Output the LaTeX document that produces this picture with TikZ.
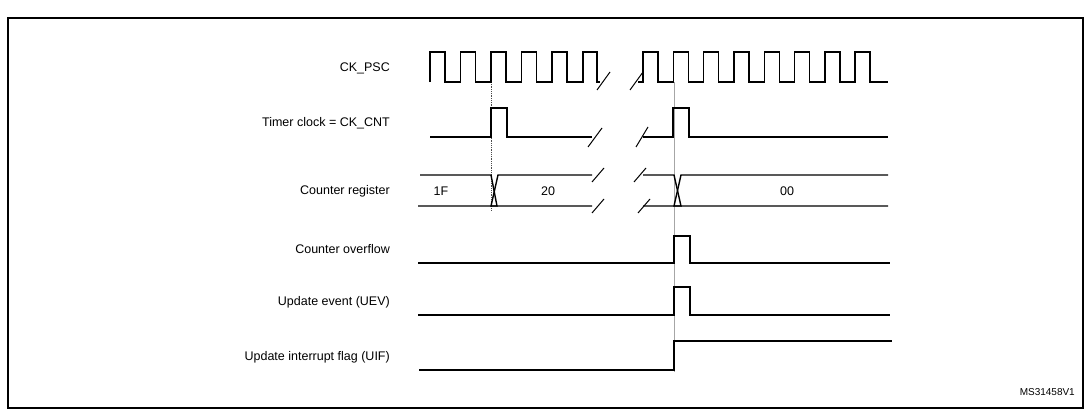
\documentclass[tikz,border=0pt]{standalone}
\usepackage{fontspec}
\setmainfont{Liberation Sans}
\tikzset{
  wave/.style={line width=1.4pt, line join=miter},
  brk/.style={line width=1pt},
  lbl/.style={anchor=east, font=\fontsize{12.5}{14}\selectfont, inner sep=0pt},
  marker/.style={draw=black!35, line width=0.8pt}
}
\begin{document}
\begin{tikzpicture}[x=1pt,y=-1pt]
\useasboundingbox (0,0) rectangle (1085,410);
\clip (0,0) rectangle (1085,410);

% title, mostly cut off by the page
\node (title) [anchor=base west, inner sep=0pt, font=\fontsize{26}{29}\selectfont\bfseries] at (140,-8) {Figure 131. Counter timing diagram, internal clock divided by 1};
\draw [line width=1.5pt] (8,18) rectangle (1083,408);

% signal names
\node (ckpsc) [lbl] at (390,68) {CK\_PSC};
\node (tclk)  [lbl] at (390,123) {Timer clock = CK\_CNT};
\node (creg)  [lbl] at (390,191) {Counter register};
\node (covf)  [lbl] at (390,249) {Counter overflow};
\node (uev)   [lbl] at (390,302) {Update event (UEV)};
\node (uif)   [lbl] at (390,357) {Update interrupt flag (UIF)};

% markers
\draw [marker, densely dotted, draw=black!70] (491,82) -- (491,210);
\draw [marker] (674,82) -- (674,372);

% CK_PSC
\draw [wave] (430,82)
  \foreach \x in {430,460.5,491,521.5,552} { -- (\x,82) -- (\x,52) -- (\x+15,52) -- (\x+15,82) }
  -- (583,82) -- (583,52) -- (597,52) -- (597,82) -- (600,82);
\draw [wave] (638,82)
  \foreach \x in {643,673.3,703.6,733.9,764.2,794.5,824.8,855.1} { -- (\x,82) -- (\x,52) -- (\x+15,52) -- (\x+15,82) }
  -- (888,82);
\draw [brk] (597,90) -- (610,72);
\draw [brk] (630,90) -- (643,72);

% Timer clock
\draw [wave] (430,137) -- (491,137) -- (491,108) -- (507,108) -- (507,137) -- (592,137);
\draw [wave] (643,137) -- (673,137) -- (673,108) -- (689,108) -- (689,137) -- (888,137);
\draw [brk] (588,147) -- (602,128);
\draw [brk] (636,147) -- (648,127);

% Counter register
\draw [wave] (420,175) -- (491,175) -- (497,206) -- (418,206);
\draw [wave] (592,175) -- (498,175) -- (491,206) -- (592,206);
\draw [wave] (643,175) -- (674,175) -- (681,206) -- (643,206);
\draw [wave] (888,175) -- (681,175) -- (674,206) -- (888,206);
\node (v1f) [font=\fontsize{12.5}{14}\selectfont] at (441,191) {1F};
\node (v20) [font=\fontsize{12.5}{14}\selectfont] at (548,191) {20};
\node (v00) [font=\fontsize{12.5}{14}\selectfont] at (787,191) {00};
\draw [brk] (592,182) -- (604,168);
\draw [brk] (592,213) -- (604,199);
\draw [brk] (634,182) -- (646,168);
\draw [brk] (638,213) -- (650,199);

% Counter overflow
\draw [wave] (418,263) -- (674,263) -- (674,236) -- (690,236) -- (690,263) -- (890,263);
% UEV
\draw [wave] (418,315) -- (674,315) -- (674,287) -- (690,287) -- (690,315) -- (890,315);
% UIF
\draw [wave] (419,370) -- (674,370) -- (674,341) -- (892,341);

\node (ref) [anchor=east, font=\fontsize{10}{12}\selectfont, inner sep=0pt] at (1075,392) {MS31458V1};
\end{tikzpicture}
\end{document}
